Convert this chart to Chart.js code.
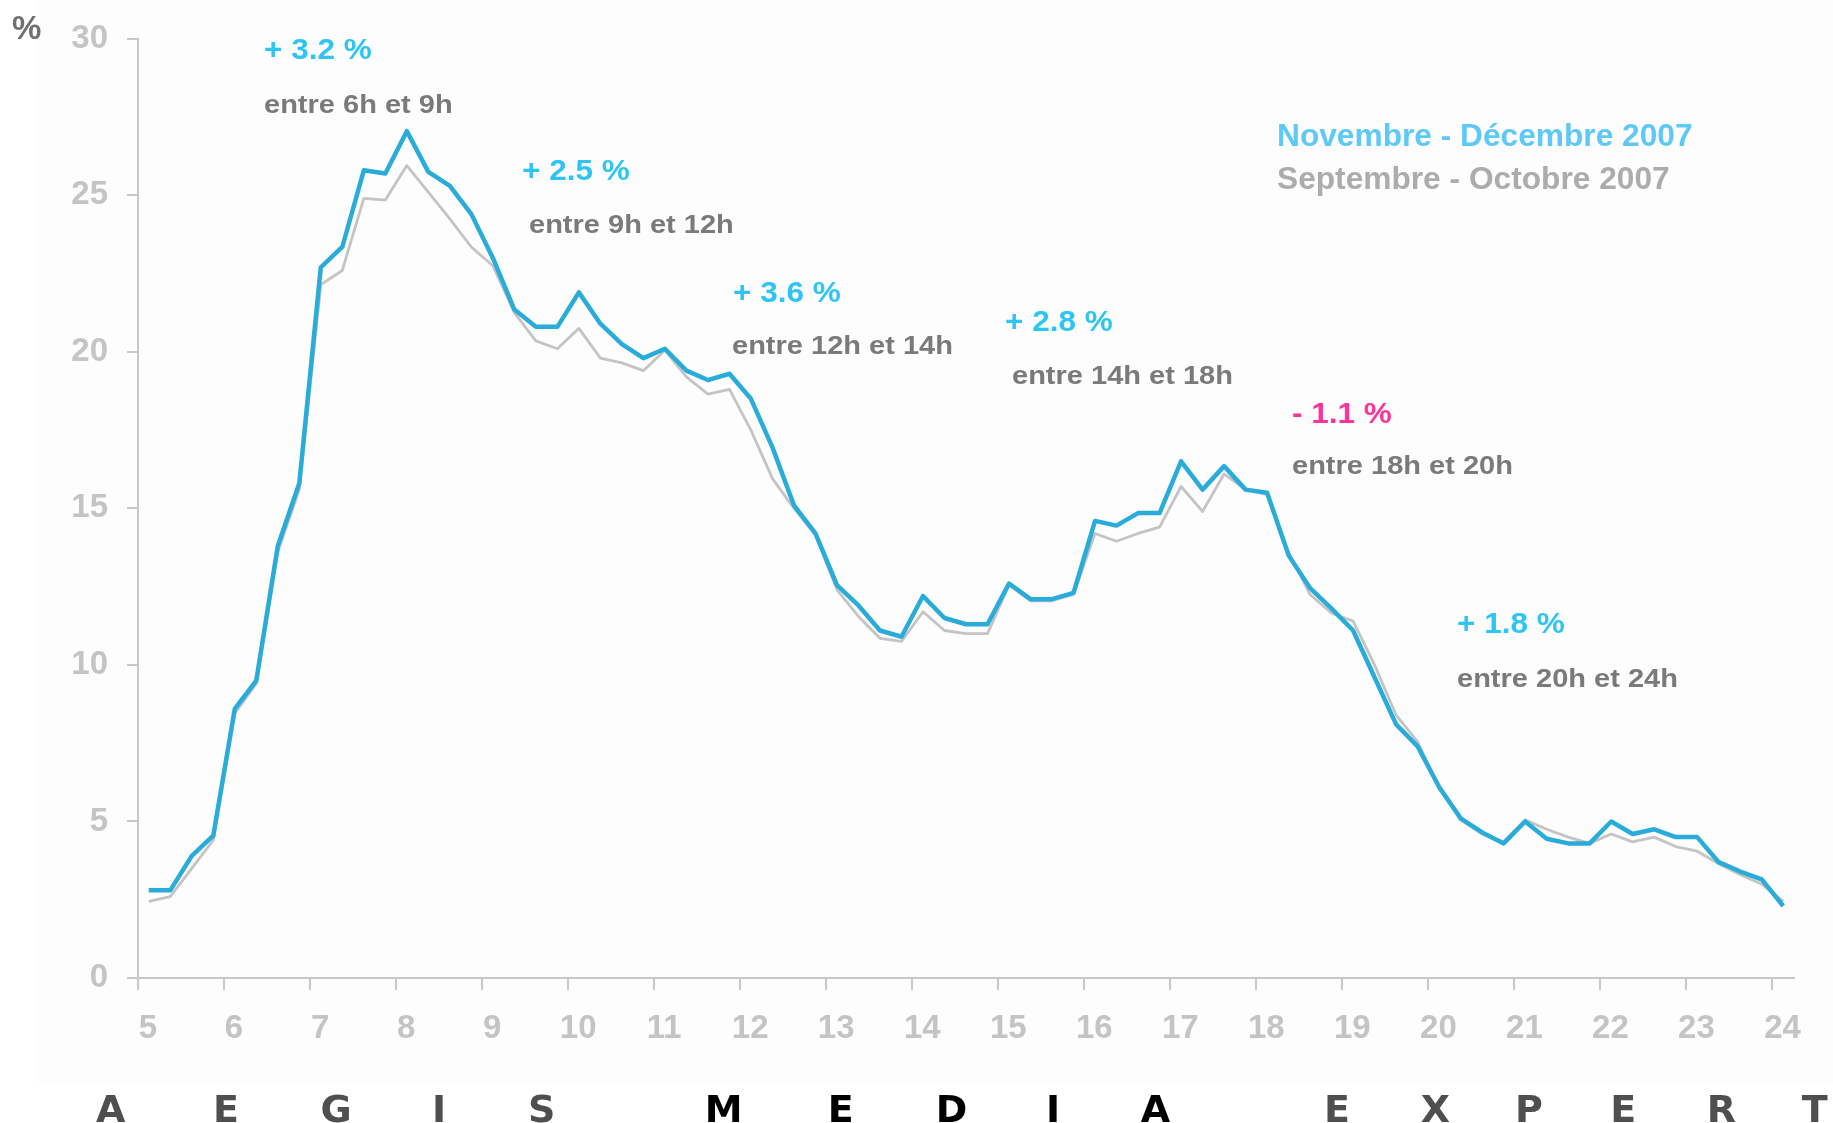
<!DOCTYPE html>
<html>
<head>
<meta charset="utf-8">
<script src="https://cdn.jsdelivr.net/npm/chart.js@4/dist/chart.umd.min.js"></script>
<style>
html, body { margin: 0; padding: 0; background: #ffffff; }
#wrap { width: 1833px; height: 1123px; position: relative; overflow: hidden; }
canvas { display: block; }
</style>
</head>
<body>
<div id="wrap"><canvas id="c" width="1833" height="1123"></canvas></div>
<script>
// ---------------- DATA ----------------
const hours = [
  5.125, 5.375, 5.625, 5.875, 6.125, 6.375, 6.625, 6.875,
  7.125, 7.375, 7.625, 7.875, 8.125, 8.375, 8.625, 8.875,
  9.125, 9.375, 9.625, 9.875, 10.125, 10.375, 10.625, 10.875,
  11.125, 11.375, 11.625, 11.875, 12.125, 12.375, 12.625, 12.875,
  13.125, 13.375, 13.625, 13.875, 14.125, 14.375, 14.625, 14.875,
  15.125, 15.375, 15.625, 15.875, 16.125, 16.375, 16.625, 16.875,
  17.125, 17.375, 17.625, 17.875, 18.125, 18.375, 18.625, 18.875,
  19.125, 19.375, 19.625, 19.875, 20.125, 20.375, 20.625, 20.875,
  21.125, 21.375, 21.625, 21.875, 22.125, 22.375, 22.625, 22.875,
  23.125, 23.375, 23.625, 23.875, 24.125
];
const novDec2007 = [
  2.8, 2.8, 3.9, 4.55, 8.6, 9.5, 13.8, 15.8,
  22.7, 23.35, 25.8, 25.7, 27.05, 25.75, 25.3, 24.4,
  23.0, 21.35, 20.8, 20.8, 21.9, 20.9, 20.25, 19.8,
  20.1, 19.4, 19.1, 19.3, 18.5, 16.95, 15.1, 14.2,
  12.55, 11.9, 11.1, 10.9, 12.2, 11.5, 11.3, 11.3,
  12.6, 12.1, 12.1, 12.3, 14.6, 14.45, 14.85, 14.85,
  16.5, 15.6, 16.35, 15.6, 15.5, 13.5, 12.45, 11.8,
  11.1, 9.6, 8.1, 7.4, 6.1, 5.1, 4.65, 4.3,
  5.0, 4.45, 4.3, 4.3, 5.0, 4.6, 4.75, 4.5,
  4.5, 3.7, 3.4, 3.15, 2.3
];
const sepOct2007 = [
  2.45, 2.6, 3.5, 4.4, 8.45, 9.4, 13.6, 15.6,
  22.15, 22.6, 24.9, 24.85, 25.95, 25.1, 24.25, 23.35,
  22.75, 21.25, 20.35, 20.1, 20.75, 19.8, 19.65, 19.4,
  20.05, 19.2, 18.65, 18.8, 17.5, 15.95, 15.0, 14.15,
  12.4, 11.55, 10.85, 10.75, 11.7, 11.1, 11.0, 11.0,
  12.55, 12.05, 12.05, 12.25, 14.2, 13.95, 14.2, 14.4,
  15.7, 14.9, 16.1, 15.6, 15.45, 13.6, 12.25, 11.65,
  11.4, 10.0, 8.4, 7.55, 6.05, 5.05, 4.6, 4.35,
  5.05, 4.75, 4.5, 4.3, 4.6, 4.35, 4.5, 4.2,
  4.05, 3.65, 3.3, 3.0, 2.45
];
const xTickValues = [5, 6, 7, 8, 9, 10, 11, 12, 13, 14, 15, 16, 17, 18, 19, 20, 21, 22, 23, 24];
const yTickValues = [0, 5, 10, 15, 20, 25, 30];
const seriesNames = ['Novembre - Décembre 2007', 'Septembre - Octobre 2007'];
const unitLabel = '%';
const deltaLabels = ['+ 3.2 %', '+ 2.5 %', '+ 3.6 %', '+ 2.8 %', '- 1.1 %', '+ 1.8 %'];
const periodLabels = ['entre 6h et 9h', 'entre 9h et 12h', 'entre 12h et 14h', 'entre 14h et 18h', 'entre 18h et 20h', 'entre 20h et 24h'];
const brandWords = ['AEGIS', 'MEDIA', 'EXPERT'];

// ---------------- LAYOUT / STYLE ----------------
const BLUE_LINE = '#29acd9';
const GRAY_LINE = '#c4c4c4';
const AXIS_COLOR = '#c8c8c8';
const TICK_TEXT = '#c4c4c4';
const SANS = '"Liberation Sans", Arial, Helvetica, sans-serif';

const deltaPos = [[264, 59], [522, 180], [733, 302], [1005, 331], [1292, 422.5], [1457, 633]];
const deltaColors = ['#2ec5f5', '#2ec5f5', '#2ec5f5', '#2ec5f5', '#ff3399', '#2ec5f5'];
const periodPos = [[264, 112.5], [529, 233], [732, 353.5], [1012, 384], [1292, 474], [1457, 687]];
const legendPos = [[1277, 146], [1277, 189]];
const legendColors = ['#5ec9f7', '#acacac'];
const brandLetterX = [110.7, 226, 336, 439, 541.8, 723.6, 840.7, 951.5, 1053, 1155.5, 1337, 1435.5, 1529, 1623.3, 1721.4, 1814.8];
const brandColors = ['#4f4f4f', '#000000', '#4f4f4f'];

function drawText(ctx, text, x, y, font, color, sx) {
  ctx.save();
  ctx.translate(x, y);
  ctx.scale(sx || 1, 1);
  ctx.font = font;
  ctx.fillStyle = color;
  ctx.textAlign = 'left';
  ctx.textBaseline = 'alphabetic';
  ctx.fillText(text, 0, 0);
  ctx.restore();
}

const decorPlugin = {
  id: 'decor',
  beforeDraw(chart) {
    const ctx = chart.ctx;
    ctx.save();
    ctx.fillStyle = '#ffffff';
    ctx.fillRect(0, 0, chart.width, chart.height);
    ctx.fillStyle = '#fdfdfd';
    ctx.fillRect(36, 0, chart.width - 36, 1083);
    ctx.restore();
  },
  afterDraw(chart) {
    const ctx = chart.ctx;
    drawText(ctx, unitLabel, 12, 38.6, 'bold 33px ' + SANS, '#707070', 1);
    deltaLabels.forEach((t, i) => {
      drawText(ctx, t, deltaPos[i][0], deltaPos[i][1], 'bold 30px ' + SANS, deltaColors[i], 1.05);
    });
    periodLabels.forEach((t, i) => {
      drawText(ctx, t, periodPos[i][0], periodPos[i][1], 'bold 26.5px ' + SANS, '#7a7a7a', 1.095);
    });
    seriesNames.forEach((t, i) => {
      drawText(ctx, t, legendPos[i][0], legendPos[i][1], 'bold 32px ' + SANS, legendColors[i], 0.99);
    });
    ctx.save();
    ctx.font = 'bold 38px "DejaVu Sans", ' + SANS;
    ctx.textAlign = 'center';
    ctx.textBaseline = 'alphabetic';
    let k = 0;
    brandWords.forEach((w, wi) => {
      ctx.fillStyle = brandColors[wi];
      for (const ch of w) {
        ctx.fillText(ch, brandLetterX[k], 1122);
        k++;
      }
    });
    ctx.restore();
  }
};

const ctx = document.getElementById('c').getContext('2d');
new Chart(ctx, {
  type: 'line',
  data: {
    datasets: [
      {
        label: seriesNames[0],
        data: hours.map((h, i) => ({ x: h, y: novDec2007[i] })),
        borderColor: BLUE_LINE,
        borderWidth: 4.5,
        pointRadius: 0,
        tension: 0,
        fill: false,
        borderJoinStyle: 'round'
      },
      {
        label: seriesNames[1],
        data: hours.map((h, i) => ({ x: h, y: sepOct2007[i] })),
        borderColor: GRAY_LINE,
        borderWidth: 2.8,
        pointRadius: 0,
        tension: 0,
        fill: false,
        borderJoinStyle: 'round'
      }
    ]
  },
  options: {
    responsive: false,
    devicePixelRatio: 1,
    animation: false,
    layout: { padding: { top: 34.6, right: 39, left: 0, bottom: 0 } },
    plugins: {
      legend: { display: false },
      tooltip: { enabled: false },
      title: { display: false }
    },
    scales: {
      x: {
        type: 'linear',
        min: 5,
        max: 24.25,
        afterBuildTicks: (s) => { s.ticks = xTickValues.map(v => ({ value: v })); },
        afterFit: (s) => { s.height = 145; },
        ticks: {
          color: TICK_TEXT,
          font: { family: SANS, size: 33, weight: 'bold' },
          labelOffset: 10,
          padding: 19,
          maxRotation: 0,
          autoSkip: false
        },
        grid: { drawOnChartArea: false, drawTicks: true, tickLength: 12, color: AXIS_COLOR, lineWidth: 2 },
        border: { display: true, color: AXIS_COLOR, width: 2 }
      },
      y: {
        min: 0,
        max: 30,
        afterBuildTicks: (s) => { s.ticks = yTickValues.map(v => ({ value: v })); },
        afterFit: (s) => { s.width = 138; },
        ticks: {
          color: TICK_TEXT,
          font: { family: SANS, size: 33, weight: 'bold' },
          padding: 19
        },
        grid: { drawOnChartArea: false, drawTicks: true, tickLength: 11, color: AXIS_COLOR, lineWidth: 2 },
        border: { display: true, color: AXIS_COLOR, width: 2 }
      }
    }
  },
  plugins: [decorPlugin]
});
</script>
</body>
</html>
